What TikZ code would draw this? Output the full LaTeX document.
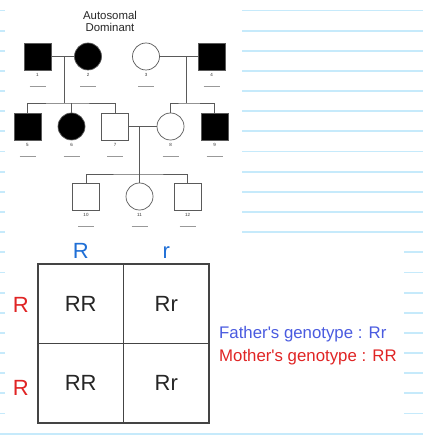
\documentclass[tikz,border=0pt]{standalone}
\usepackage{fontspec}
\setmainfont{Liberation Sans}
\usepackage{tikz}
\usetikzlibrary{positioning}
\definecolor{paperline}{HTML}{C6EAFB}
\definecolor{allelered}{HTML}{E02424}
\definecolor{alleleblue}{HTML}{1F6FD6}
\definecolor{fatherblue}{HTML}{4A5BE0}
\definecolor{pedgray}{HTML}{5A5A5A}
\definecolor{gridgray}{HTML}{444444}
\tikzset{male/.style = {rectangle,draw=pedgray,line width=0.7pt,minimum size=27pt,inner sep=0pt},
         female/.style = {circle,draw=pedgray,line width=0.7pt,minimum size=27pt,inner sep=0pt},
         hit/.style = {fill=black},
         kin/.style = {draw=pedgray,line width=0.6pt},
         num/.style = {inner sep=1pt,font=\fontsize{4.5}{5}\selectfont,text=black!80},
         blank/.style = {draw=black!40,line width=0.6pt},
         paper/.style = {draw=paperline,line width=1.8pt},
         cell/.style = {rectangle,draw=gridgray,line width=1.2pt,outer sep=0pt,
                        minimum width=85.5pt,minimum height=79.5pt,
                        font=\fontsize{22}{24}\selectfont,text=black!85},
         allele/.style = {inner sep=1pt,text height=16pt,text depth=0pt,font=\fontsize{22}{24}\selectfont},
         geno/.style = {inner sep=0pt,font=\fontsize{16.8}{19}\selectfont}}
\begin{document}
\begin{tikzpicture}[x=1pt,y=-1pt]
\useasboundingbox (0,0) rectangle (423,438);
% ruled paper behind the pasted pictures
\foreach \k in {0,...,21}
  \draw[paper] (0,{10.5+20.15*\k}) -- (423,{10.5+20.15*\k});
\fill[white] (5,0) rectangle (242,240);
\fill[white] (5,240) rectangle (404,428);
% pedigree
\node[align=center,font=\fontsize{11.4}{12}\selectfont,text=black!85] (ttl) at (110,21) {Autosomal\\Dominant};
\node[male,hit] (I1) at (37.5,56.5) {};
\node[female,hit] (I2) at (88,56.5) {};
\node[female] (I3) at (146,56.5) {};
\node[male,hit] (I4) at (211.5,56.5) {};
\node[male,hit] (I5) at (27.5,126.5) {};
\node[female,hit] (I6) at (71.5,126.5) {};
\node[male] (I7) at (115,126.5) {};
\node[female] (I8) at (170.5,126.5) {};
\node[male,hit] (I9) at (214.5,126.5) {};
\node[male] (I10) at (86,196.5) {};
\node[female] (I11) at (139.5,196.5) {};
\node[male] (I12) at (187.5,196.5) {};
\coordinate (m12) at (64,56.5);
\coordinate (s12) at (64,103);
\coordinate (m34) at (186,56.5);
\coordinate (s34) at (186,103);
\coordinate (m78) at (139.5,126.5);
\coordinate (s78) at (139.5,174);
\draw[kin] (I1) -- (I2);
\draw[kin] (m12) -- (s12);
\draw[kin] (I5.north) |- (s12) -| (I7.north);
\draw[kin] (I6) -- (I6 |- s12);
\draw[kin] (I3) -- (I4);
\draw[kin] (m34) -- (s34);
\draw[kin] (I8.north) |- (s34) -| (I9.north);
\draw[kin] (I7) -- (I8);
\draw[kin] (m78) -- (I11);
\draw[kin] (I10.north) |- (s78) -| (I12.north);
\foreach \i in {1,...,12} {
  \node[num] (n\i) [below=1.5pt of I\i] {\i};
  \draw[blank] ([xshift=-8pt,yshift=-16pt]I\i.south) -- ([xshift=8pt,yshift=-16pt]I\i.south);
}
% punnett square
\node[cell] (c11) at (80.75,303.75) {RR};
\node[cell,right=0pt of c11] (c12) {Rr};
\node[cell,below=0pt of c11] (c21) {RR};
\node[cell,right=0pt of c21] (c22) {Rr};
\node[allele,text=alleleblue,above=4pt of c11] (f1) {R};
\node[allele,text=alleleblue,above=4pt of c12] (f2) {r};
\node[allele,text=allelered,left=8pt of c11,yshift=-1pt] (g1) {R};
\node[allele,text=allelered,left=8pt of c21,yshift=-4.5pt] (g2) {R};
\node[geno,text=fatherblue,anchor=west] (fg) at (219,334) {Father{\textquotesingle}s genotype : Rr};
\node[geno,text=allelered,anchor=west] (mg) at (219,357) {Mother{\textquotesingle}s genotype : RR};
\end{tikzpicture}
\end{document}
